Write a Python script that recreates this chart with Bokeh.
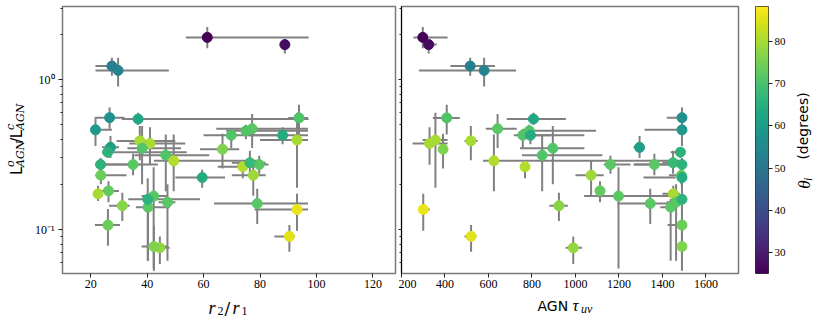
import numpy as np
from math import pi
from bokeh.plotting import figure
from bokeh.layouts import row, column
from bokeh.models import (ColumnDataSource, FixedTicker, CustomJSTickFormatter,
                          LinearColorMapper, Range1d)
from bokeh.core.properties import value
from bokeh.palettes import Viridis256
from bokeh.transform import linear_cmap
from bokeh.embed import file_html
from bokeh.resources import INLINE

# ---------------- data ----------------
lum_ratio = [1.91, 1.71, 1.23, 1.15, 0.555, 0.47, 0.545, 0.425, 0.455, 0.425,
             0.375, 0.395, 0.343, 0.39, 0.348, 0.313, 0.287, 0.262, 0.136, 0.090,
             0.144, 0.0755, 0.077, 0.23, 0.181, 0.271, 0.167, 0.353, 0.271, 0.149,
             0.279, 0.557, 0.462, 0.328, 0.271, 0.23, 0.222, 0.173, 0.152, 0.141,
             0.159, 0.107]
lum_lo = [1.62, 1.49, 1.06, 0.90, 0.43, 0.35, 0.50, 0.35, 0.40, 0.37,
          0.27, 0.19, 0.255, 0.29, 0.20, 0.18, 0.18, 0.22, 0.098, 0.071,
          0.114, 0.059, 0.053, 0.168, 0.152, 0.235, 0.055, 0.30, 0.23, 0.109,
          0.235, 0.47, 0.36, 0.30, 0.23, 0.20, 0.19, 0.155, 0.062, 0.062,
          0.062, 0.078]
lum_hi = [2.24, 1.85, 1.40, 1.40, 0.68, 0.59, 0.60, 0.47, 0.50, 0.48,
          0.48, 0.60, 0.435, 0.49, 0.49, 0.43, 0.43, 0.28, 0.173, 0.107,
          0.176, 0.090, 0.106, 0.29, 0.21, 0.31, 0.26, 0.42, 0.32, 0.187,
          0.335, 0.65, 0.56, 0.35, 0.30, 0.26, 0.25, 0.196, 0.20, 0.16,
          0.22, 0.137]
incl_deg = [25.5, 27, 52, 53, 71, 72, 63, 71, 71, 64,
            80, 80, 76, 80, 71, 71, 81, 81, 86.5, 85.5,
            77, 78, 76, 79, 73, 72, 72, 61, 72, 72,
            68, 57, 59, 66, 66, 74, 64, 80, 72, 72,
            66, 74]
r_ratio = [61.3, 88.8, 27.5, 29.7, 93.8, 77.2, 36.8, 69.8, 75.0, 88.0,
           41.0, 93.1, 66.7, 37.4, 38.2, 46.6, 49.4, 73.9, 93.1, 90.4,
           31.2, 44.5, 42.4, 77.6, 26.3, 79.7, 42.3, 27.0, 35.0, 79.0,
           76.4, 26.7, 21.7, 26.0, 23.5, 23.6, 59.5, 22.6, 47.2, 40.3,
           40.2, 26.1]
r_lo = [53.7, 87.0, 21.7, 21.7, 90.0, 64.5, 31.0, 60.0, 68.0, 76.0,
        33.7, 80.0, 58.7, 29.2, 33.0, 35.5, 42.4, 65.0, 78.0, 85.1,
        26.5, 41.0, 38.0, 70.0, 23.0, 72.0, 38.0, 24.0, 25.0, 63.7,
        70.0, 21.6, 21.5, 24.0, 21.6, 21.6, 50.0, 21.0, 44.0, 36.0,
        33.3, 21.5]
r_hi = [97.2, 90.6, 28.6, 47.7, 97.0, 97.0, 97.2, 88.0, 97.0, 97.0,
        53.5, 97.0, 72.6, 50.0, 52.0, 62.0, 80.0, 78.0, 97.0, 92.3,
        33.8, 48.0, 47.0, 82.0, 30.0, 83.0, 47.0, 30.0, 43.8, 97.0,
        82.0, 32.0, 27.5, 54.0, 37.5, 32.7, 67.6, 24.0, 50.0, 48.0,
        58.7, 30.4]
tau_uv = [298, 325, 516, 580, 408, 642, 807, 758, 788, 793,
          329, 356, 391, 519, 896, 847, 625, 768, 300, 520,
          924, 990, 1490, 1072, 1113, 1161, 1198, 1295, 1363, 1344,
          1449, 1490, 1490, 1483, 1490, 1487, 1490, 1450, 1463, 1438,
          1490, 1490]
tau_lo = [255, 297, 425, 280, 344, 588, 684, 717, 768, 745,
          251, 297, 380, 490, 745, 754, 575, 750, 280, 490,
          880, 955, 1470, 1000, 1100, 1130, 1040, 1267, 1272, 1193,
          1400, 1420, 1318, 1438, 1267, 1430, 1313, 1400, 1420, 1390,
          1470, 1424]
tau_hi = [412, 362, 630, 727, 468, 730, 956, 888, 1095, 1041,
          412, 412, 400, 550, 1041, 1124, 1480, 790, 330, 545,
          965, 1030, 1500, 1130, 1130, 1253, 1470, 1313, 1438, 1438,
          1500, 1500, 1490, 1500, 1500, 1500, 1461, 1480, 1480, 1460,
          1500, 1500]

r_ticks = [20, 40, 60, 80, 100, 120]
tau_ticks = [200, 400, 600, 800, 1000, 1200, 1400, 1600]
y_major = [0.1, 1.0]
y_minor = [0.06, 0.07, 0.08, 0.09, 0.2, 0.3, 0.4, 0.5, 0.6, 0.7, 0.8, 0.9, 2.0, 3.0]
cbar_ticks = [30, 40, 50, 60, 70, 80]
theta_low, theta_high = 25.0, 88.3

# ---------------- setup ----------------
src = ColumnDataSource(dict(y=lum_ratio, ylo=lum_lo, yhi=lum_hi, th=incl_deg,
                            r=r_ratio, rlo=r_lo, rhi=r_hi,
                            t=tau_uv, tlo=tau_lo, thi=tau_hi))
cmap = linear_cmap("th", Viridis256, theta_low, theta_high)

TICK_FONT = "Liberation Serif"
FRAME = "#7a7a7a"
ERR = "#808080"
ROW_H = 293

log_fmt = CustomJSTickFormatter(code="""
const e = Math.round(Math.log10(tick));
const m = {"-": "\u207b", "0": "\u2070", "1": "\u00b9", "2": "\u00b2", "3": "\u00b3"};
return "10" + String(e).split("").map(c => m[c]).join("");
""")
blank_fmt = CustomJSTickFormatter(code="return '';")


def style_common(p):
    p.grid.visible = False
    p.outline_line_color = FRAME
    p.outline_line_width = 1.5
    p.background_fill_color = "white"
    p.border_fill_color = "white"
    for ax in (p.xaxis[0], p.yaxis[0]):
        ax.major_label_text_font = TICK_FONT
        ax.major_label_text_font_size = "12px"
        ax.major_label_text_color = "black"
        ax.major_tick_line_color = "#222222"
        ax.minor_tick_line_color = "#222222"
        ax.major_tick_in = 0
        ax.major_tick_out = 4
        ax.minor_tick_in = 0
        ax.minor_tick_out = 2
        ax.axis_line_color = None
    p.xaxis.minor_tick_line_color = None
    p.xaxis.major_label_standoff = 2


def draw(p, xc, xlo, xhi):
    p.segment(x0=xlo, y0="y", x1=xhi, y1="y", source=src, line_color=ERR, line_width=2)
    p.segment(x0=xc, y0="ylo", x1=xc, y1="yhi", source=src, line_color=ERR, line_width=2)
    p.scatter(x=xc, y="y", source=src, size=10, fill_color=cmap, line_color=cmap)


def label_fig(w, h):
    f = figure(width=w, height=h, x_range=Range1d(0, w), y_range=Range1d(0, h),
               output_backend="svg", toolbar_location=None,
               min_border_left=0, min_border_right=0, min_border_top=0, min_border_bottom=0)
    f.axis.visible = False
    f.grid.visible = False
    f.outline_line_color = None
    f.background_fill_color = None
    f.border_fill_color = None
    return f


def put(f, text, x, y, font, size, style="normal", angle=0.0):
    f.text(x=[x], y=[y], text=[text], angle=angle, text_font=value(font),
           text_font_size=value(f"{size}px"), text_font_style=style,
           text_align="left", text_baseline="alphabetic", text_color="black")


# ---------------- left panel ----------------
p1 = figure(width=370, height=ROW_H, y_axis_type="log", x_range=(10, 128),
            y_range=(0.0509, 3.07), output_backend="svg", toolbar_location=None,
            min_border_left=34, min_border_right=3, min_border_top=6, min_border_bottom=20)
style_common(p1)
p1.xaxis.ticker = FixedTicker(ticks=r_ticks)
p1.yaxis.ticker = FixedTicker(ticks=y_major, minor_ticks=y_minor)
p1.yaxis.formatter = log_fmt
p1.yaxis.major_label_standoff = 4
draw(p1, "r", "rlo", "rhi")

# ---------------- right panel ----------------
p2 = figure(width=347, height=ROW_H, y_axis_type="log", x_range=(200, 1750),
            y_range=p1.y_range, output_backend="svg", toolbar_location=None,
            min_border_left=3, min_border_right=7, min_border_top=6, min_border_bottom=20)
style_common(p2)
p2.xaxis.ticker = FixedTicker(ticks=tau_ticks)
p2.yaxis.ticker = FixedTicker(ticks=y_major, minor_ticks=y_minor)
p2.yaxis.formatter = blank_fmt
p2.yaxis.major_label_standoff = 0
p2.yaxis.axis_line_color = "black"
p2.yaxis.major_tick_out = 3
draw(p2, "t", "tlo", "thi")

# ---------------- colour bar ----------------
mapper = LinearColorMapper(palette=Viridis256, low=theta_low, high=theta_high)
p3 = figure(width=43, height=ROW_H, x_range=(0, 1), y_range=(theta_low, theta_high),
            y_axis_location="right", output_backend="svg", toolbar_location=None,
            min_border_left=10, min_border_right=17, min_border_top=6, min_border_bottom=20)
p3.grid.visible = False
p3.xaxis.visible = False
p3.outline_line_color = "#333333"
p3.outline_line_width = 1
p3.border_fill_color = "white"
grad = np.linspace(theta_low, theta_high, 256).reshape(-1, 1)
p3.image(image=[grad], x=0, y=theta_low, dw=1, dh=theta_high - theta_low, color_mapper=mapper)
ax = p3.yaxis[0]
ax.ticker = FixedTicker(ticks=cbar_ticks)
ax.minor_tick_line_color = None
ax.major_tick_in = 0
ax.major_tick_out = 4
ax.major_tick_line_color = "#222222"
ax.axis_line_color = None
ax.major_label_text_font = TICK_FONT
ax.major_label_text_font_size = "11px"
ax.major_label_text_color = "black"
ax.major_label_standoff = 2

# ---------------- axis titles (mixed fonts) ----------------
A = pi / 2
ylab = label_fig(28, ROW_H)           # window x 0..28
put(ylab, "L", 16, 108, "DejaVu Sans", 15, angle=A)
put(ylab, "o", 10, 117, "DejaVu Serif", 11, "italic", angle=A)
put(ylab, "AGN", 19.5, 117, "DejaVu Serif", 11, "italic", angle=A)
put(ylab, "/", 16, 143.5, "DejaVu Sans", 15, angle=A)
put(ylab, "L", 16, 148.5, "DejaVu Sans", 15, angle=A)
put(ylab, "c", 10, 157.5, "DejaVu Serif", 11, "italic", angle=A)
put(ylab, "AGN", 19.5, 157.5, "DejaVu Serif", 11, "italic", angle=A)

cbl = label_fig(27, ROW_H)            # window x 788..815
put(cbl, "\u03b8", 16, 93, "Liberation Serif", 17, "italic", angle=A)
put(cbl, "i", 19.5, 101.5, "Liberation Serif", 12, "italic", angle=A)
put(cbl, "(degrees)", 14.5, 125, "DejaVu Sans", 14, angle=A)

xlab = label_fig(815, 29)             # window y 293..322
put(xlab, "r", 208, 15, "Liberation Serif", 18, "italic")
put(xlab, "2", 217, 12, "Liberation Serif", 12)
put(xlab, "/", 224, 15, "DejaVu Serif", 17)
put(xlab, "r", 232, 15, "Liberation Serif", 18, "italic")
put(xlab, "1", 241, 12, "Liberation Serif", 12)
put(xlab, "AGN", 537, 17, "DejaVu Sans", 14)
put(xlab, "\u03c4", 572, 17, "Liberation Serif", 17, "italic")
put(xlab, "uv", 580.5, 14, "Liberation Serif", 12, "italic")

layout = column(row(ylab, p1, p2, p3, cbl), xlab)
open("out.html", "w").write(file_html(layout, INLINE))
